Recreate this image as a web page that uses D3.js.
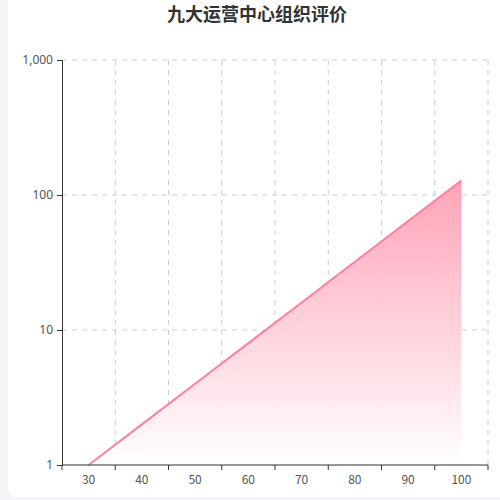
<!DOCTYPE html>
<html lang="zh">
  <head>
    <meta charset="UTF-8" />
    <title>九大运营中心组织评价</title>
    <script src="https://d3js.org/d3.v7.min.js"></script>
    <style>
      body { margin: 0; background: #f3f3f9; }
      #card {
        position: absolute; left: 8px; top: -6px; width: 500px; height: 503px;
        background: #fff; border-radius: 8px;
      }
      svg { position: absolute; left: 0; top: 0; }
    </style>
  </head>
  <body>
    <div id="card"></div>
    <div id="chart"></div>

    <script>
      const title = "九大运营中心组织评价";
      const categories = ["30", "40", "50", "60", "70", "80", "90", "100"];
      const values = [1, 2, 4, 8, 16, 32, 64, 128];
      const yTicks = [1, 10, 100, 1000];

      const margin = { top: 60, right: 12, bottom: 35, left: 62 },
        width = 500 - margin.left - margin.right,
        height = 500 - margin.top - margin.bottom;

      const root = d3
        .select("#chart")
        .append("svg")
        .attr("width", 500)
        .attr("height", 500)
        .style("font-family", "'Noto Sans CJK SC', 'Noto Sans', sans-serif");

      root
        .append("text")
        .attr("x", 257)
        .attr("y", 21)
        .attr("text-anchor", "middle")
        .attr("font-size", 18)
        .attr("font-weight", "bold")
        .attr("fill", "#333")
        .text(title);

      const svg = root
        .append("g")
        .attr("transform", `translate(${margin.left},${margin.top})`);

      // gradient for area
      const grad = root
        .append("defs")
        .append("linearGradient")
        .attr("id", "areaGrad")
        .attr("x1", 0).attr("y1", 0).attr("x2", 0).attr("y2", 1);
      grad.append("stop").attr("offset", "0%").attr("stop-color", "#ff9fb5").attr("stop-opacity", 0.95);
      grad.append("stop").attr("offset", "100%").attr("stop-color", "#ffffff").attr("stop-opacity", 1);

      const x = d3.scaleBand().domain(categories).range([0, width]);
      const y = d3.scaleLog().domain([1, 1000]).range([height, 0]);

      // grid
      svg
        .append("g")
        .selectAll("line")
        .data(yTicks.slice(1))
        .join("line")
        .attr("x1", 0)
        .attr("x2", width)
        .attr("y1", (d) => y(d))
        .attr("y2", (d) => y(d))
        .attr("stroke", "#ccc")
        .attr("stroke-dasharray", "5,5");
      svg
        .append("g")
        .selectAll("line")
        .data(categories)
        .join("line")
        .attr("x1", (d) => x(d) + x.bandwidth())
        .attr("x2", (d) => x(d) + x.bandwidth())
        .attr("y1", 0)
        .attr("y2", height)
        .attr("stroke", "#ccc")
        .attr("stroke-dasharray", "5,5");

      const cx = (d, i) => x(categories[i]) + x.bandwidth() / 2;

      const area = d3
        .area()
        .x(cx)
        .y0(height)
        .y1((d) => y(d));
      svg
        .append("path")
        .datum(values)
        .attr("d", area)
        .attr("fill", "url(#areaGrad)");

      const line = d3
        .line()
        .x(cx)
        .y((d) => y(d));
      svg
        .append("path")
        .datum(values)
        .attr("d", line)
        .attr("fill", "none")
        .attr("stroke", "#ff80a0")
        .attr("stroke-width", 2);

      // x axis with ticks on band boundaries
      const xAxis = svg
        .append("g")
        .attr("transform", `translate(0,${height})`);
      xAxis
        .append("line")
        .attr("x1", 0)
        .attr("x2", width)
        .attr("stroke", "#333");
      const bounds = [categories[0]].concat(categories);
      xAxis
        .selectAll(".tk")
        .data(bounds)
        .join("line")
        .attr("class", "tk")
        .attr("x1", (d, i) => (i === 0 ? 0 : x(d) + x.bandwidth()))
        .attr("x2", (d, i) => (i === 0 ? 0 : x(d) + x.bandwidth()))
        .attr("y1", 0)
        .attr("y2", 5)
        .attr("stroke", "#333");
      xAxis
        .selectAll("text")
        .data(categories)
        .join("text")
        .attr("x", (d) => x(d) + x.bandwidth() / 2)
        .attr("y", 19)
        .attr("text-anchor", "middle")
        .attr("font-size", 12)
        .attr("fill", "#555")
        .text((d) => d);

      // y axis
      const yAxis = svg
        .append("g")
        .call(
          d3
            .axisLeft(y)
            .tickValues(yTicks)
            .tickFormat(d3.format(","))
            .tickSizeOuter(0)
            .tickSize(5)
            .tickPadding(4)
        );
      yAxis.select(".domain").attr("stroke", "#333");
      yAxis.selectAll(".tick line").attr("stroke", "#333");
      yAxis
        .selectAll(".tick text")
        .attr("font-size", 12)
        .attr("fill", "#555")
        .style("font-family", "'Noto Sans', sans-serif");
    </script>
  </body>
</html>
